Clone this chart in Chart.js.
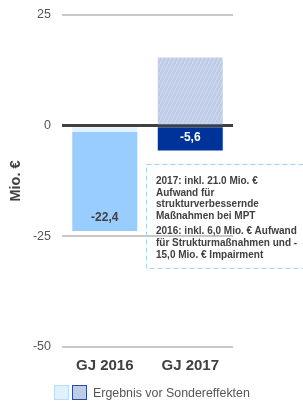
<!DOCTYPE html>
<html>
<head>
<meta charset="utf-8">
<script src="https://cdn.jsdelivr.net/npm/chart.js@4"></script>
<style>
  html, body { margin: 0; padding: 0; background: #fff; }
  #wrap { position: relative; width: 303px; height: 401px; overflow: hidden; font-family: "Liberation Sans", Arial, sans-serif; }
  #chart { position: absolute; left: 0; top: 0; }
  .note {
    position: absolute; left: 147px; top: 165px;
    padding: 10px 0 0 9px; color: #404040; font-weight: bold; font-size: 10px; line-height: 11.7px;
    white-space: nowrap;
  }
  .note p { margin: 0 0 3.5px 0; }
  .legend { position: absolute; left: 54px; top: 385px; display: flex; align-items: center; color: #555; font-size: 12.4px; }
  .legend .box { width: 15px; height: 15px; box-sizing: border-box; margin-right: 3px; }
  .legend span.txt { margin-left: 3px; }
</style>
</head>
<body>
<div id="wrap">
  <canvas id="chart" width="303" height="401"></canvas>
  <div class="note">
    <p>2017: inkl. 21.0 Mio. €<br>Aufwand für<br>strukturverbessernde<br>Maßnahmen bei MPT</p>
    <p>2016: inkl. 6,0 Mio. € Aufwand<br>für Strukturmaßnahmen und -<br>15,0 Mio. € Impairment</p>
  </div>
  <div class="legend">
    <div class="box" style="background:#e3f1ff;border:1px solid #b5dbff"></div>
    <div class="box" style="background:#bfcce6;border:1.5px solid #2a4c9c"></div>
    <span class="txt">Ergebnis vor Sondereffekten</span>
  </div>
</div>
<script>
const categories = ['GJ 2016', 'GJ 2017'];
const ergebnis = [-22.4, -5.6];
const vorSondereffekten = [-1.4, 15.4];
const yTicks = [25, 0, -25, -50];

const solidColors = ['#99ccff', '#003399'];
const labelColors = ['#404040', '#ffffff'];

function hatch() {
  const c = document.createElement('canvas');
  c.width = 4; c.height = 8;
  const g = c.getContext('2d');
  g.fillStyle = '#bfcce8';
  g.fillRect(0, 0, 4, 8);
  g.strokeStyle = '#d2dcf0';
  g.lineWidth = 1;
  g.beginPath();
  g.moveTo(-1, 10); g.lineTo(5, -2);
  g.stroke();
  return g.createPattern(c, 'repeat');
}
const lightColors = ['#e4f1ff', hatch()];

const fmt = v => v.toFixed(1).replace('.', ',');

// value labels inside the bar ends + dashed note frame
const valueLabels = {
  id: 'valueLabels',
  afterDraw(chart) {
    const ctx = chart.ctx;
    const meta = chart.getDatasetMeta(1);
    ctx.save();
    ctx.font = 'bold 12px "Liberation Sans", Arial, sans-serif';
    ctx.textAlign = 'center';
    ctx.textBaseline = 'middle';
    meta.data.forEach((bar, i) => {
      ctx.fillStyle = labelColors[i];
      ctx.fillText(fmt(ergebnis[i]), bar.x, bar.y - 13);
    });
    ctx.strokeStyle = '#a6d2ff';
    ctx.lineWidth = 1;
    ctx.setLineDash([5, 3]);
    ctx.strokeRect(146.5, 164.5, 200, 104);
    ctx.restore();
  }
};

new Chart(document.getElementById('chart'), {
  type: 'bar',
  data: {
    labels: categories,
    datasets: [
      {
        label: 'Ergebnis vor Sondereffekten',
        data: vorSondereffekten,
        backgroundColor: lightColors,
        borderWidth: 0
      },
      {
        label: 'Ergebnis',
        data: ergebnis,
        backgroundColor: solidColors,
        borderWidth: 0
      }
    ]
  },
  options: {
    responsive: false,
    animation: false,
    layout: { padding: { top: 15, right: 70, bottom: 0, left: 0 } },
    datasets: { bar: { categoryPercentage: 1, barPercentage: 0.76 } },
    plugins: { legend: { display: false }, tooltip: { enabled: false } },
    scales: {
      x: {
        stacked: true,
        afterFit: s => { s.height = 54; },
        grid: { display: false, drawTicks: false },
        border: { display: false },
        ticks: { color: '#404040', padding: 10, font: { size: 15, weight: 'bold', family: '"Liberation Sans", Arial, sans-serif' } }
      },
      y: {
        stacked: true,
        z: 1,
        min: -50,
        max: 25,
        afterFit: s => { s.width = 62; s.paddingTop = 0; s.paddingBottom = 0; },
        afterBuildTicks: s => { s.ticks = yTicks.map(v => ({ value: v })); },
        grid: {
          drawTicks: false,
          color: c => c.tick && c.tick.value === 0 ? '#404040' : '#c8c8c8',
          lineWidth: c => c.tick && c.tick.value === 0 ? 3 : 2
        },
        border: { display: false },
        ticks: { color: '#555', padding: 11, font: { size: 12.5, family: '"Liberation Sans", Arial, sans-serif' } },
        title: {
          display: true,
          text: 'Mio. €',
          color: '#404040',
          padding: { top: 7, bottom: 0 },
          font: { size: 14.5, weight: 'bold', family: '"Liberation Sans", Arial, sans-serif' }
        }
      }
    }
  },
  plugins: [valueLabels]
});
</script>
</body>
</html>
